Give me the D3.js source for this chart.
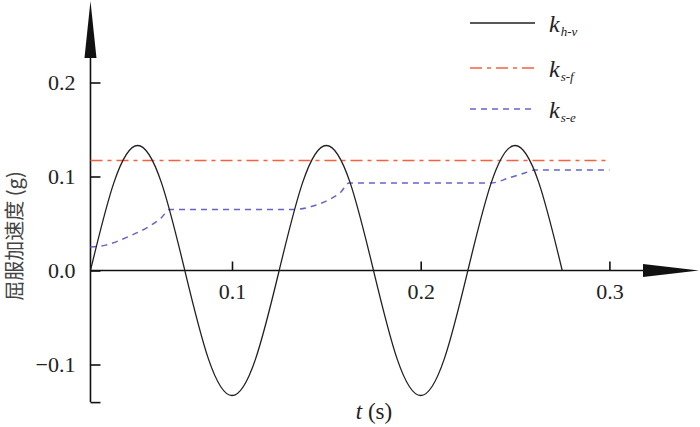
<!DOCTYPE html>
<html>
<head>
<meta charset="utf-8">
<script src="https://cdn.jsdelivr.net/npm/d3@7"></script>
<style>
html,body{margin:0;padding:0;background:#fff;}
svg{display:block;}
.serif{font-family:"Liberation Serif","Times New Roman",Tinos,"DejaVu Serif",serif;}
</style>
</head>
<body>
<svg id="chart" width="700" height="427"></svg>
<script>
// ---- data ----
const timeHV = [0.025,0.0375,0.05,0.0625,0.075,0.0875,0.1,0.1125,0.125,0.1375,0.15,0.1625,0.175,0.1875,0.2,0.2125,0.225,0.2375,0.25,0.2625,0.275];
const accHV  = [0,0.094,0.133,0.094,0,-0.094,-0.133,-0.094,0,0.094,0.133,0.094,0,-0.094,-0.133,-0.094,0,0.094,0.133,0.094,0];

const timeSF = [0.025,0.3];
const accSF  = [0.117,0.117];

const timeSE = [0.025,0.033,0.045,0.057,0.0625,0.067,0.133,0.142,0.151,0.1575,0.162,0.237,0.2475,0.2555,0.2605,0.3];
const accSE  = [0.025,0.027,0.036,0.048,0.056,0.065,0.065,0.068,0.075,0.083,0.093,0.093,0.099,0.104,0.107,0.107];

const xTicks = [0.1,0.2,0.3];
const yTicks = [-0.14,-0.1,0,0.1,0.2];
const legendNames = [["k","h-v"],["k","s-f"],["k","s-e"]];
const yTitle = "屈服加速度 (g)";

// ---- drawing ----
const svg = d3.select("#chart");
const x = d3.scaleLinear().domain([0,0.3]).range([43.3,609.4]);
const y = d3.scaleLinear().domain([-0.14,0.2]).range([402.1,82.5]);

// axes
const xAxis = d3.axisBottom(x).tickValues(xTicks).tickSizeInner(-9).tickSizeOuter(0).tickPadding(13)
  .tickFormat(d3.format(".1f"));
const gx = svg.append("g").attr("transform",`translate(0,${y(0)})`).call(xAxis);
gx.attr("font-family",null);
gx.select(".domain").remove();
gx.selectAll(".tick line").attr("stroke","#111").attr("stroke-width",1.6);
gx.selectAll(".tick text").attr("class","serif").attr("font-size",22).attr("fill","#222");

const yAxis = d3.axisLeft(y).tickValues(yTicks).tickSizeInner(-10).tickSizeOuter(0).tickPadding(15)
  .tickFormat(d => d === -0.14 ? "" : d3.format(".1f")(d));
const gy = svg.append("g").attr("transform",`translate(${x(0.025)},0)`).call(yAxis);
gy.attr("font-family",null);
gy.select(".domain").remove();
gy.selectAll(".tick line").attr("stroke","#111").attr("stroke-width",1.6);
gy.selectAll(".tick text").attr("class","serif").attr("font-size",22).attr("fill","#222");

// axis lines with arrows
const x0 = x(0.025), yz = y(0);
svg.append("line").attr("x1",x0).attr("x2",x0).attr("y1",y(-0.14)).attr("y2",30)
  .attr("stroke","#111").attr("stroke-width",1.6);
svg.append("path").attr("d",`M${x0},1 L${x0-6},58 L${x0+6},58 Z`).attr("fill","#111");
svg.append("line").attr("x1",x0).attr("x2",660).attr("y1",yz).attr("y2",yz)
  .attr("stroke","#111").attr("stroke-width",1.6);
svg.append("path").attr("d",`M699,${yz} L643,${yz-6.5} L643,${yz+6.5} Z`).attr("fill","#111");

// series
const line = d3.line().x(d=>x(d[0])).y(d=>y(d[1]));
svg.append("path").datum(d3.zip(timeSF,accSF)).attr("d",line)
  .attr("fill","none").attr("stroke","#f5603f").attr("stroke-width",1.5).attr("stroke-dasharray","12,5,4,5");
svg.append("path").datum(d3.zip(timeSE,accSE)).attr("d",d3.line().x(d=>x(d[0])).y(d=>y(d[1])).curve(d3.curveMonotoneX))
  .attr("fill","none").attr("stroke","#6464c8").attr("stroke-width",1.5).attr("stroke-dasharray","6,5");
svg.append("path").datum(d3.zip(timeHV,accHV)).attr("d",d3.line().x(d=>x(d[0])).y(d=>y(d[1])).curve(d3.curveNatural))
  .attr("fill","none").attr("stroke","#231f20").attr("stroke-width",1.3);

// legend
const legY = [23,68,109];
const legStyles = [
  {stroke:"#231f20",dash:null,w:1.3},
  {stroke:"#f5603f",dash:"12,5,4,5",w:1.5},
  {stroke:"#6464c8",dash:"6,5",w:1.5}
];
legendNames.forEach((n,i)=>{
  const s = legStyles[i];
  svg.append("line").attr("x1",470).attr("x2",535).attr("y1",legY[i]).attr("y2",legY[i])
    .attr("stroke",s.stroke).attr("stroke-width",s.w).attr("stroke-dasharray",s.dash);
  const t = svg.append("text").attr("class","serif").attr("x",549).attr("y",legY[i]+9)
    .attr("font-style","italic").attr("font-size",24).attr("fill","#222");
  t.append("tspan").text(n[0]);
  t.append("tspan").attr("font-size",13).attr("dy",4).attr("dx",1).text(n[1]);
});

// titles
svg.append("text").attr("transform","translate(22,236) rotate(-90)").attr("text-anchor","middle")
  .style("font-family","'Noto Sans CJK SC',sans-serif").attr("font-size",20).attr("fill","#444").text(yTitle);
const xt = svg.append("text").attr("class","serif").attr("x",374).attr("y",419).attr("text-anchor","middle")
  .attr("font-size",23).attr("fill","#222");
xt.append("tspan").attr("font-style","italic").text("t");
xt.append("tspan").text(" (s)");
</script>
</body>
</html>
